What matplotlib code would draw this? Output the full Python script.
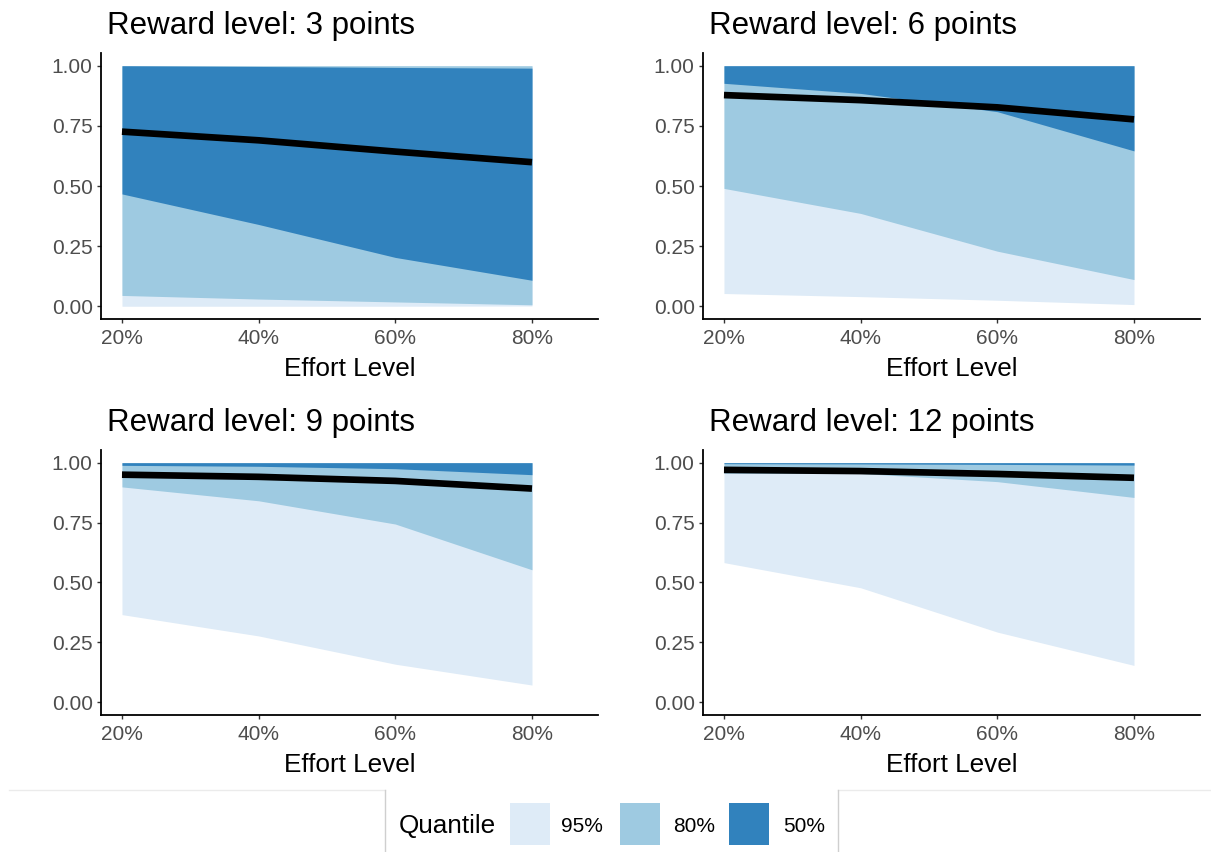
import numpy as np
import matplotlib
matplotlib.use('Agg')
import matplotlib.pyplot as plt
from matplotlib.patches import Rectangle
from matplotlib.lines import Line2D

plt.rcParams['font.family'] = ['Liberation Sans', 'DejaVu Sans']

# effort levels on the x axis
effort = [0.2, 0.4, 0.6, 0.8]
effort_labels = ['20%', '40%', '60%', '80%']
rewards = [3, 6, 9, 12]

# bands: lower / upper bounds per reward level
lo95 = {3: [0.0, 0.0, 0.0, 0.001],
        6: [0.053, 0.04, 0.025, 0.007],
        9: [0.366, 0.277, 0.159, 0.072],
        12: [0.583, 0.478, 0.293, 0.154]}
hi95 = {3: [1.0, 1.0, 1.0, 1.0], 6: [1.0, 1.0, 1.0, 1.0],
        9: [1.0, 1.0, 1.0, 1.0], 12: [1.0, 1.0, 1.0, 1.0]}
lo80 = {3: [0.045, 0.03, 0.018, 0.006],
        6: [0.49, 0.386, 0.229, 0.111],
        9: [0.899, 0.841, 0.744, 0.553],
        12: [0.956, 0.955, 0.921, 0.855]}
hi80 = {3: [1.0, 1.0, 1.0, 1.0], 6: [1.0, 1.0, 1.0, 1.0],
        9: [1.0, 1.0, 1.0, 1.0], 12: [1.0, 1.0, 1.0, 1.0]}
lo50 = {3: [0.467, 0.34, 0.203, 0.108],
        6: [0.927, 0.885, 0.809, 0.646],
        9: [0.989, 0.985, 0.975, 0.95],
        12: [0.996, 0.995, 0.993, 0.99]}
hi50 = {3: [1.0, 0.997, 0.993, 0.99], 6: [1.0, 1.0, 1.0, 1.0],
        9: [1.0, 1.0, 1.0, 1.0], 12: [1.0, 1.0, 1.0, 1.0]}
mean_p = {3: [0.726, 0.69, 0.643, 0.599],
          6: [0.878, 0.857, 0.827, 0.777],
          9: [0.95, 0.941, 0.924, 0.892],
          12: [0.97, 0.965, 0.953, 0.937]}

quantiles = ['95%', '80%', '50%']
colors = {'95%': '#deebf7', '80%': '#9ecae1', '50%': '#3182bd'}

W, H = 1211, 852
fig = plt.figure(figsize=(W / 100, H / 100), dpi=100)

# panel boxes in pixels: left, top, right, bottom
boxes = [(101, 53, 598, 319), (703, 53, 1200, 319),
         (101, 450, 598, 715), (703, 450, 1200, 715)]

for r, (l, t, rt, b) in zip(rewards, boxes):
    ax = fig.add_axes([l / W, 1 - b / H, (rt - l) / W, (b - t) / H])
    ax.fill_between(effort, lo95[r], hi95[r], color=colors['95%'], lw=0)
    ax.fill_between(effort, lo80[r], hi80[r], color=colors['80%'], lw=0)
    ax.fill_between(effort, lo50[r], hi50[r], color=colors['50%'], lw=0)
    ax.plot(effort, mean_p[r], color='black', lw=4.8, solid_capstyle='butt')
    ax.set_xlim(0.1693, 0.8966)
    ax.set_ylim(-0.053, 1.053)
    ax.set_xticks(effort)
    ax.set_xticklabels(effort_labels)
    ax.set_yticks([0, 0.25, 0.5, 0.75, 1.0])
    ax.set_yticklabels(['0.00', '0.25', '0.50', '0.75', '1.00'])
    for s in ['top', 'right']:
        ax.spines[s].set_visible(False)
    for s in ['left', 'bottom']:
        ax.spines[s].set_linewidth(1.3)
        ax.spines[s].set_color('black')
    ax.tick_params(length=3, width=1, color='#333333', labelcolor='#4d4d4d',
                   labelsize=15, pad=3)
    ax.tick_params(axis='x', pad=4.5)
    ax.set_xlabel('Effort Level', fontsize=18.8, labelpad=6.5)
    ax.set_title(f'Reward level: {r} points', loc='left', fontsize=22.5,
                 pad=14, x=6 / (rt - l))

# legend at bottom
fig.text(399 / W, 1 - 826 / H, 'Quantile', fontsize=18.8, va='center', ha='left')
key_x = [510, 620, 729]
lab_x = [561, 673, 783]
for q, kx, lx in zip(quantiles, key_x, lab_x):
    fig.add_artist(Rectangle((kx / W, 1 - 845 / H), 40 / W, 42 / H,
                             transform=fig.transFigure, facecolor=colors[q], lw=0))
    fig.text(lx / W, 1 - 826 / H, q, fontsize=15, va='center', ha='left')

# legend frame lines
fig.add_artist(Line2D([9 / W, 385 / W], [1 - 790 / H] * 2, transform=fig.transFigure,
                      color='#ebebeb', lw=1))
fig.add_artist(Line2D([838 / W, 1.0], [1 - 790 / H] * 2, transform=fig.transFigure,
                      color='#ebebeb', lw=1))
for vx in [385, 838]:
    fig.add_artist(Line2D([vx / W] * 2, [0, 1 - 790 / H], transform=fig.transFigure,
                          color='#cfcfcf', lw=1))

fig.savefig('out.png', dpi=100, facecolor='white')
